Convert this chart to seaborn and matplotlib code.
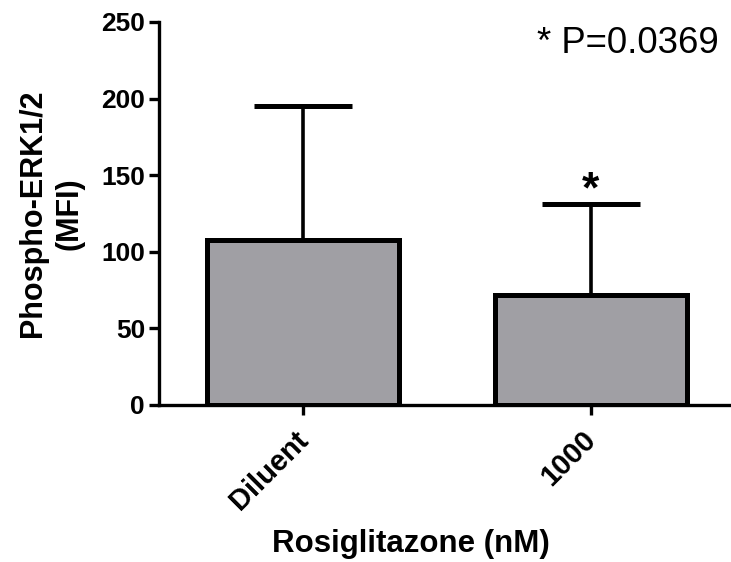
import matplotlib
matplotlib.use("Agg")
import matplotlib.pyplot as plt
import matplotlib.transforms as mtransforms
import seaborn as sns
import pandas as pd

# Data
groups = ["Diluent", "1000"]
means = [108, 72]
sd_upper = [87, 59]
y_ticks = [0, 50, 100, 150, 200, 250]
p_text = "* P=0.0369"

sns.set_theme(style="ticks")
plt.rcParams["font.family"] = ["Liberation Sans", "DejaVu Sans"]
plt.rcParams.update({
    "text.color": "black",
    "axes.labelcolor": "black",
    "xtick.color": "black",
    "ytick.color": "black",
})

df = pd.DataFrame({"group": groups, "mfi": means})

fig = plt.figure(figsize=(7.31, 5.62), dpi=100)
ax = fig.add_axes([0.2175, 0.2794, 0.7875, 0.6815])

sns.barplot(data=df, x="group", y="mfi", order=groups, color="#a09fa4",
            saturation=1, width=0.667, edgecolor="black", linewidth=3.6,
            errorbar=None, ax=ax)

# upper-only error bars
ax.errorbar(x=range(len(groups)), y=means, yerr=[[0] * len(groups), sd_upper],
            fmt="none", ecolor="black", elinewidth=2.6, capsize=35,
            capthick=3.6, zorder=1)

# significance marker over the treated group
ax.annotate("*", xy=(1, means[1] + sd_upper[1]), xytext=(0, -5),
            textcoords="offset points", ha="center", va="bottom",
            fontsize=32, fontweight="bold")

fig.text(0.983, 1 - 53 / 562, p_text, ha="right", va="baseline", fontsize=26.3)

ax.set_xlim(-0.5, 1.5)
ax.set_ylim(0, 250)
for side in ["top", "right"]:
    ax.spines[side].set_visible(False)
for side in ["left", "bottom"]:
    ax.spines[side].set_linewidth(2.4)
    ax.spines[side].set_color("black")
ax.tick_params(axis="both", width=2.4, length=7, color="black", pad=3)

ax.set_yticks(y_ticks)
ax.set_yticklabels([str(v) for v in y_ticks], fontsize=19, fontweight="bold")
ax.set_xticks(range(len(groups)))
ax.set_xticklabels(groups, fontsize=21, fontweight="bold", rotation=45,
                   ha="right", rotation_mode="anchor")
# nudge the slanted category labels down-left of their ticks
shift = mtransforms.ScaledTranslation(-9 / 100, -7 / 100, fig.dpi_scale_trans)
for lab in ax.get_xticklabels():
    lab.set_transform(lab.get_transform() + shift)

ax.set_xlabel("Rosiglitazone (nM)", fontsize=22.5, fontweight="bold")
ax.xaxis.set_label_coords(0.4375, -0.324)
ax.set_ylabel("Phospho-ERK1/2\n(MFI)", fontsize=22, fontweight="bold",
              labelpad=12, linespacing=1.3)

fig.savefig("out.png", dpi=100)
